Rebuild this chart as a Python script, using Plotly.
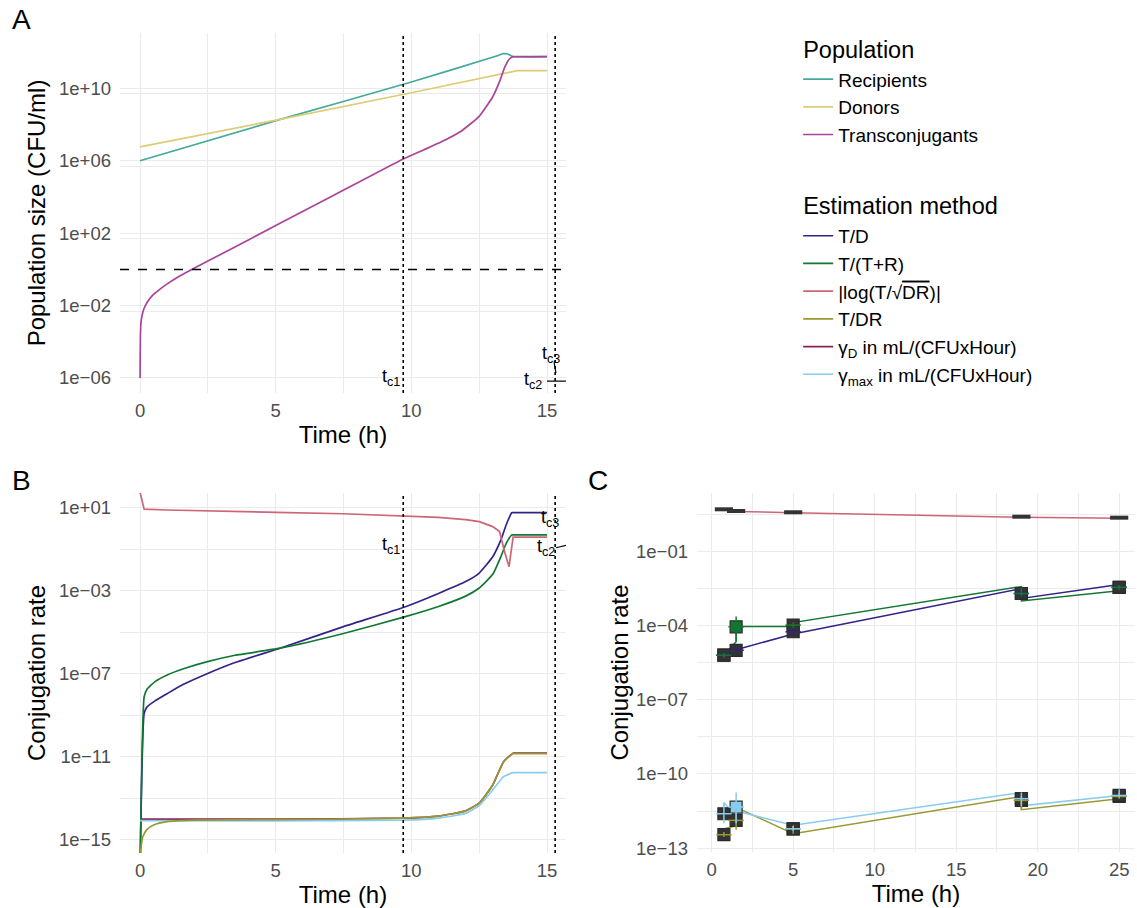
import plotly.graph_objects as go

FONT = "Liberation Sans, Arial, sans-serif"

# ---------------- data ----------------
# Panel A: population sizes (log10 CFU/ml) over time (h)
a_rec_t = [0, 5.2, 10, 13.2, 13.4, 13.55, 13.75, 15]
a_rec_log10 = [6.0, 8.3, 10.35, 11.82, 11.92, 11.9, 11.76, 11.75]
a_don_t = [0, 5.2, 10, 13.75, 13.9, 15]
a_don_log10 = [6.77, 8.3, 9.76, 10.96, 10.98, 10.98]
a_trc_t = [0, 0.01, 0.03, 0.08, 0.15, 0.27, 0.45, 0.7, 1.0, 1.4, 1.9, 3.0, 5.0, 7.0,
           9.7, 10.45, 11.13, 11.8, 12.49, 13.0, 13.25, 13.45, 13.6, 13.7, 13.8, 13.9, 15.0]
a_trc_log10 = [-6.0, -3.8, -3.0, -2.5, -2.15, -1.8, -1.45, -1.13, -0.8, -0.42, 0.0, 0.85, 2.42, 3.98,
               6.1, 6.6, 7.06, 7.6, 8.44, 9.54, 10.37, 11.2, 11.6, 11.72, 11.75, 11.75, 11.75]
detection_limit = 1.0
tc_times = [9.7, 15.3]

# Panel B: conjugation-rate estimates (log10) over time (h)
b_td_t = [0, 0.15, 0.25, 0.55, 1.0, 1.6, 2.45, 3.5, 5.16, 7.5, 9.78, 11.0, 12.0, 12.49, 13.0, 13.3,
          13.5, 13.7, 13.8, 15.0]
b_td_log10 = [-16.5, -8.9, -8.6, -8.3, -7.95, -7.5, -7.0, -6.45, -5.76, -4.72, -3.76, -3.12, -2.55,
              -2.15, -1.35, -0.54, 0.2, 0.77, 0.77, 0.77]
b_ttr_t = [0, 0.15, 0.25, 0.55, 1.0, 1.6, 2.45, 3.5, 5.16, 7.5, 9.78, 11.0, 12.0, 12.49, 13.0, 13.3,
           13.5, 13.7, 13.8, 15.0]
b_ttr_log10 = [-16.5, -8.1, -7.75, -7.37, -7.05, -6.75, -6.42, -6.1, -5.76, -5.05, -4.24, -3.75,
               -3.25, -2.87, -2.2, -1.35, -0.7, -0.3, -0.3, -0.3]
b_log_t = [0, 0.15, 1.0, 2.5, 5.0, 7.5, 9.7, 11.0, 12.0, 12.5, 13.0, 13.25, 13.45, 13.6, 13.75, 15.0]
b_log_log10 = [1.75, 0.94, 0.9, 0.85, 0.79, 0.72, 0.63, 0.55, 0.44, 0.34, 0.1, -0.14, -1.17, -1.83,
               -0.41, -0.41]
b_tdr_t = [0, 0.05, 0.1, 0.25, 0.5, 1.0, 2.0, 5.0, 9.7, 11.0, 12.0, 12.5, 13.0, 13.4, 13.75, 13.85, 15.0]
b_tdr_log10 = [-15.8, -15.2, -14.85, -14.5, -14.28, -14.12, -14.05, -14.02, -13.95, -13.85, -13.6,
               -13.23, -12.35, -11.23, -10.84, -10.84, -10.84]
b_gd_t = [0, 2.0, 5.0, 9.7, 11.0, 12.0, 12.5, 13.0, 13.4, 13.75, 13.85, 15.0]
b_gd_log10 = [-14.0, -14.0, -14.0, -13.95, -13.85, -13.6, -13.23, -12.35, -11.23, -10.82, -10.82, -10.82]
b_gm_t = [0, 5.0, 9.7, 11.0, 12.0, 12.5, 13.0, 13.4, 13.75, 13.85, 15.0]
b_gm_log10 = [-14.07, -14.08, -14.05, -13.95, -13.72, -13.35, -12.59, -11.95, -11.76, -11.76, -11.76]

# Panel C: experimental estimates (log10) at sampling times (h)
c_times = [0.75, 1.5, 5, 19, 25]
c_log_box = [0.72, 0.65, 0.6, 0.42, 0.38]
c_td_box = [-5.19, -4.99, -4.24, -2.69, -2.44]
c_ttr_box = [-5.19, -4.04, -3.97, -2.69, -2.44]
c_tdr_box = [-12.46, -11.88, -12.22, -11.07, -10.91]
c_gm_box = [-11.61, -11.34, -12.22, -11.0, -10.87]
# whisker ends (low, high)
c_ttr_lo = [-5.3, -4.6, -4.08, -2.8, -2.55]
c_ttr_hi = [-5.1, -3.62, -3.85, -2.45, -2.35]
c_td_lo = [-5.3, -5.05, -4.38, -2.9, -2.5]
c_td_hi = [-5.1, -4.9, -4.15, -2.5, -2.3]
c_tdr_lo = [-12.55, -12.26, -12.42, -11.45, -11.0]
c_tdr_hi = [-12.35, -11.45, -12.1, -10.9, -10.75]
c_gm_lo = [-12.0, -12.0, -12.3, -11.3, -10.95]
c_gm_hi = [-11.2, -10.75, -12.1, -10.75, -10.62]
# connecting lines through replicate values
c_log_line_t = [0.75, 1.5, 5, 19, 25]
c_log_line_log10 = [0.7, 0.63, 0.58, 0.4, 0.36]
c_td_line_t = [0.75, 1.5, 5, 19, 19, 25]
c_td_line_log10 = [-5.31, -4.97, -4.33, -2.49, -2.89, -2.33]
c_ttr_line_t = [0.75, 1.5, 1.5, 5, 5, 19, 19, 25]
c_ttr_line_log10 = [-5.18, -4.64, -4.03, -4.03, -3.87, -2.41, -2.99, -2.58]
c_tdr_line_t = [0.75, 0.75, 1.5, 1.5, 5, 19, 19, 25]
c_tdr_line_log10 = [-12.49, -12.22, -12.1, -11.35, -12.42, -10.91, -11.45, -11.0]
c_gm_line_t = [0.75, 0.75, 1.5, 1.5, 5, 19, 19, 25, 25]
c_gm_line_log10 = [-11.7, -11.15, -11.75, -11.5, -12.08, -10.75, -11.29, -10.87, -10.7]

# ---------------- styling ----------------
COL = {
    "rec": "#44AA99", "don": "#DDCC77", "trc": "#AA4499",
    "td": "#332288", "ttr": "#117733", "log": "#CC6677",
    "tdr": "#999933", "gd": "#882255", "gm": "#88CCEE",
}
LW = 1.7
GRID = "#EBEBEB"


def pw(vals):
    return [10 ** v for v in vals]


fig = go.Figure()

# Panel A
fig.add_trace(go.Scatter(x=a_rec_t, y=pw(a_rec_log10), mode="lines", name="Recipients",
                         line=dict(color=COL["rec"], width=LW, shape="spline", smoothing=0.4),
                         legendgroup="pop",
                         legendgrouptitle=dict(text="Population", font=dict(size=23.5, color="black")),
                         xaxis="x", yaxis="y"))
fig.add_trace(go.Scatter(x=a_don_t, y=pw(a_don_log10), mode="lines", name="Donors",
                         line=dict(color=COL["don"], width=LW), legendgroup="pop", xaxis="x", yaxis="y"))
fig.add_trace(go.Scatter(x=a_trc_t, y=pw(a_trc_log10), mode="lines", name="Transconjugants",
                         line=dict(color=COL["trc"], width=LW, shape="spline", smoothing=0.5),
                         legendgroup="pop", xaxis="x", yaxis="y"))

# Panel B
b_series = [
    ("gd", b_gd_t, b_gd_log10, "γ<sub>D</sub> in mL/(CFUxHour)", "spline"),
    ("td", b_td_t, b_td_log10, "T/D", "spline"),
    ("ttr", b_ttr_t, b_ttr_log10, "T/(T+R)", "spline"),
    ("log", b_log_t, b_log_log10, "|log(T/√<span style='text-decoration:overline'>DR</span>)|", "linear"),
    ("gm", b_gm_t, b_gm_log10, "γ<sub>max</sub> in mL/(CFUxHour)", "spline"),
    ("tdr", b_tdr_t, b_tdr_log10, "T/DR", "spline"),
]
legend_rank = {"td": 1, "ttr": 2, "log": 3, "tdr": 4, "gd": 5, "gm": 6}
for key, t, v, name, shp in b_series:
    line = dict(color=COL[key], width=LW, shape=shp)
    if shp == "spline":
        line["smoothing"] = 0.45
    fig.add_trace(go.Scatter(x=t, y=pw(v), mode="lines", name=name, line=line,
                             legendgroup="est", legendrank=1000 + legend_rank[key],
                             legendgrouptitle=dict(text="Estimation method", font=dict(size=23.5, color="black")),
                             xaxis="x2", yaxis="y2"))

# Panel C lines
c_lines = [
    ("log", c_log_line_t, c_log_line_log10),
    ("td", c_td_line_t, c_td_line_log10),
    ("ttr", c_ttr_line_t, c_ttr_line_log10),
    ("tdr", c_tdr_line_t, c_tdr_line_log10),
    ("gm", c_gm_line_t, c_gm_line_log10),
]
for key, t, v in c_lines:
    fig.add_trace(go.Scatter(x=t, y=pw(v), mode="lines", showlegend=False,
                             line=dict(color=COL[key], width=1.5), xaxis="x3", yaxis="y3", hoverinfo="skip"))

# Panel C boxes
DARK = "#333333"
c_boxes = [
    ("td", c_td_box, c_td_lo, c_td_hi, [DARK] * 5),
    ("ttr", c_ttr_box, c_ttr_lo, c_ttr_hi, [DARK, COL["ttr"], DARK, DARK, DARK]),
    ("tdr", c_tdr_box, c_tdr_lo, c_tdr_hi, [DARK] * 5),
    ("gm", c_gm_box, c_gm_lo, c_gm_hi, [DARK, COL["gm"], DARK, DARK, DARK]),
]
fig.add_trace(go.Scatter(x=c_times, y=pw(c_log_box), mode="markers", showlegend=False,
                         marker=dict(symbol="line-ew", size=13, line=dict(color=DARK, width=4)),
                         xaxis="x3", yaxis="y3", hoverinfo="skip"))
for key, box, lo, hi, fills in c_boxes:
    fig.add_trace(go.Scatter(x=c_times, y=pw(box), mode="markers", showlegend=False,
                             marker=dict(symbol="square", size=12, color=fills,
                                         line=dict(color="#2b2b2b", width=1.2)),
                             xaxis="x3", yaxis="y3", hoverinfo="skip"))
for key, box, lo, hi, fills in c_boxes:
    yb = pw(box)
    up = [10 ** h - y for h, y in zip(hi, yb)]
    dn = [y - 10 ** l for l, y in zip(lo, yb)]
    fig.add_trace(go.Scatter(x=c_times, y=yb, mode="markers", showlegend=False,
                             marker=dict(symbol="line-ew", size=11, line=dict(color=COL[key], width=1.5)),
                             error_y=dict(type="data", array=up, arrayminus=dn, symmetric=False,
                                          color=COL[key], thickness=1.5, width=0),
                             xaxis="x3", yaxis="y3", hoverinfo="skip"))


# ---------------- axes ----------------
def xaxis(domain, anchor, rng, tickvals, minor_vals, title):
    return dict(domain=domain, anchor=anchor, range=rng, tickmode="array", tickvals=tickvals,
                showgrid=True, gridcolor=GRID, gridwidth=1.2, zeroline=False, showline=False,
                ticks="", ticklabelstandoff=4,
                tickfont=dict(size=18.5, color="#4D4D4D", family=FONT),
                title=dict(text=title, font=dict(size=24, color="black", family=FONT), standoff=6),
                minor=dict(tickvals=minor_vals, showgrid=True, gridcolor=GRID, gridwidth=0.8),
                automargin=False)


def yaxis(domain, anchor, rng, tickexp, minor_exp, title, standoff):
    return dict(domain=domain, anchor=anchor, type="log", range=rng, tickmode="array",
                tickvals=[10 ** e for e in tickexp],
                ticktext=[("1e+%02d" % e) if e >= 0 else ("1e\u2212%02d" % -e) for e in tickexp],
                showgrid=True, gridcolor=GRID, gridwidth=1.2, zeroline=False, showline=False,
                ticks="", ticklabelstandoff=8,
                tickfont=dict(size=18.5, color="#4D4D4D", family=FONT),
                title=dict(text=title, font=dict(size=24, color="black", family=FONT), standoff=standoff),
                minor=dict(tickvals=[10 ** e for e in minor_exp], showgrid=True, gridcolor=GRID, gridwidth=0.8),
                automargin=False)


W, H = 1137, 908
dAx = [120 / W, 566 / W]
dAy = [1 - 393 / H, 1 - 33 / H]
dBy = [1 - 853 / H, 1 - 493 / H]
dCx = [697 / W, 1135 / W]
dCy = [1 - 852 / H, 1 - 493 / H]

layout = dict(
    width=W, height=H, margin=dict(l=0, r=0, t=0, b=0),
    paper_bgcolor="white", plot_bgcolor="white",
    font=dict(family=FONT, color="black"),
    xaxis=xaxis(dAx, "y", [-0.74, 15.7], [0, 5, 10, 15], [2.5, 7.5, 12.5], "Time (h)"),
    yaxis=yaxis(dAy, "x", [-6.83, 13.06], [-6, -2, 2, 6, 10], [-2.3, 1.7, 5.7, 9.7],
                "Population size (CFU/ml)", 6),
    xaxis2=xaxis(dAx, "y2", [-0.74, 15.7], [0, 5, 10, 15], [2.5, 7.5, 12.5], "Time (h)"),
    yaxis2=yaxis(dBy, "x2", [-15.63, 1.72], [-15, -11, -7, -3, 1], [-13, -9, -5, -1],
                 "Conjugation rate", 6),
    xaxis3=xaxis(dCx, "y3", [-0.9, 25.97], [0, 5, 10, 15, 20, 25], [2.5, 7.5, 12.5, 17.5, 22.5], "Time (h)"),
    yaxis3=yaxis(dCy, "x3", [-13.16, 1.38], [-13, -10, -7, -4, -1], [-11.5, -8.5, -5.5, -2.5, 0.5],
                 "Conjugation rate", 0),
    showlegend=True,
    legend=dict(x=0.702, y=0.9706, xanchor="left", yanchor="top", bgcolor="rgba(0,0,0,0)",
                font=dict(size=19, color="black", family=FONT), tracegroupgap=40,
                traceorder="grouped", itemwidth=30),
)
fig.update_layout(**layout)

# ---------------- reference lines ----------------
shapes = []
for xr, yr in (("x", "y domain"), ("x2", "y2 domain")):
    for tc in tc_times:
        shapes.append(dict(type="line", xref=xr, yref=yr, x0=tc, x1=tc, y0=0, y1=1,
                           line=dict(color="black", width=1.6, dash="dot")))
shapes.append(dict(type="line", xref="x domain", yref="y", x0=0, x1=1,
                   y0=detection_limit, y1=detection_limit,
                   line=dict(color="black", width=1.5, dash="dash")))
# label leader segments
shapes.append(dict(type="line", xref="x", yref="y domain", x0=15.0, x1=15.8, y0=0.033, y1=0.033,
                   line=dict(color="black", width=1.2)))
shapes.append(dict(type="line", xref="x", yref="y domain", x0=15.26, x1=15.33, y0=0.086, y1=0.056,
                   line=dict(color="black", width=1.2)))
shapes.append(dict(type="line", xref="x2", yref="y2 domain", x0=15.33, x1=15.77, y0=0.848, y1=0.856,
                   line=dict(color="black", width=1.2)))
fig.update_layout(shapes=shapes)

# ---------------- annotations ----------------
ann = []
for letter, x, y in (("A", 10, 20), ("B", 10, 480), ("C", 586, 480)):
    ann.append(dict(text=letter, x=x / W, y=1 - y / H, xref="paper", yref="paper",
                    xanchor="left", yanchor="middle", showarrow=False,
                    font=dict(size=28, color="black", family=FONT)))
tc_labels = [
    ("x", "y domain", 9.26, 0.042, "t<sub>c1</sub>"),
    ("x", "y domain", 14.5, 0.036, "t<sub>c2</sub>"),
    ("x", "y domain", 15.15, 0.108, "t<sub>c3</sub>"),
    ("x2", "y2 domain", 9.26, 0.853, "t<sub>c1</sub>"),
    ("x2", "y2 domain", 14.95, 0.85, "t<sub>c2</sub>"),
    ("x2", "y2 domain", 15.1, 0.93, "t<sub>c3</sub>"),
]
for xr, yr, x, y, txt in tc_labels:
    ann.append(dict(text=txt, x=x, y=y, xref=xr, yref=yr, showarrow=False,
                    xanchor="center", yanchor="middle",
                    font=dict(size=18, color="black", family=FONT)))
fig.update_layout(annotations=ann)

fig.write_html("out.html")
